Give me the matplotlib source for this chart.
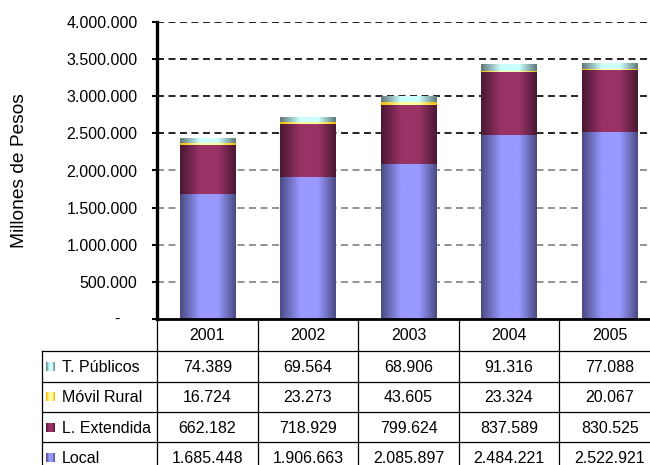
import numpy as np
import matplotlib
matplotlib.use("Agg")
import matplotlib.pyplot as plt
from matplotlib.colors import LinearSegmentedColormap
from matplotlib.lines import Line2D
from matplotlib.ticker import FuncFormatter

plt.rcParams["font.family"] = ["Liberation Sans", "DejaVu Sans"]

years = ["2001", "2002", "2003", "2004", "2005"]
local = [1685448, 1906663, 2085897, 2484221, 2522921]
l_extendida = [662182, 718929, 799624, 837589, 830525]
movil_rural = [16724, 23273, 43605, 23324, 20067]
t_publicos = [74389, 69564, 68906, 91316, 77088]

# stacking order bottom -> top, table order top -> bottom
series = [
    ("Local", local, "#4a4a84", "#9999ff"),
    ("L. Extendida", l_extendida, "#4a1832", "#993366"),
    ("Móvil Rural", movil_rural, "#f0b800", "#ffffa0"),
    ("T. Públicos", t_publicos, "#5e7878", "#ccffff"),
]

FS = 11.5
W, H = 650, 465
fig = plt.figure(figsize=(6.5, 4.65), dpi=100)

x_left, x_right = 157, 660
y_top, y_zero = 22, 319
ax = fig.add_axes([x_left / W, 1 - y_zero / H, (x_right - x_left) / W, (y_zero - y_top) / H])


def fx(px):
    return px / W


def fy(py):
    return 1 - py / H


def shade(edge, center):
    # horizontal cylinder-like shading: dark edges, bright band just left of centre
    cmap = LinearSegmentedColormap.from_list("s", [edge, center, center, edge])
    t = np.linspace(0, 1, 200)
    prof = np.interp(t, [0, 0.45, 0.6, 1.0], [0.0, 0.42, 0.58, 1.0])
    return cmap(prof)[None, :, :]


x = np.arange(len(years))
bottom = np.zeros(len(years))
for name, vals, edge, center in series:
    bars = ax.bar(x, vals, bottom=bottom, width=0.55, color=center, linewidth=0, zorder=3)
    img = shade(edge, center)
    for p in bars:
        x0, y0 = p.get_x(), p.get_y()
        im = ax.imshow(img, extent=(x0, x0 + p.get_width(), y0, y0 + p.get_height()),
                       aspect="auto", interpolation="bilinear", zorder=3)
        im.set_clip_path(p)
    bottom += np.array(vals)

ax.set_xlim(-0.5, len(years) - 0.5)
ax.set_ylim(0, 4000000)
ax.set_yticks(np.arange(0, 4000001, 500000))
ax.yaxis.set_major_formatter(FuncFormatter(lambda v, _: "" if v == 0 else f"{v:,.0f}".replace(",", ".")))
ax.annotate("-", xy=(0, 0), xycoords=("axes fraction", "data"), xytext=(-29, 0),
            textcoords="offset points", ha="center", va="center", fontsize=FS)
ax.tick_params(axis="y", direction="out", length=3.6, width=1.5, pad=10.5, labelsize=FS, colors="black")
ax.set_xticks([])
for lvl in np.arange(500000, 4000001, 500000):
    ax.axhline(lvl, color="black" if lvl >= 2500000 else "#808080", lw=1.2,
               dashes=(4.2, 2.7), zorder=1)
for s in ("top", "right"):
    ax.spines[s].set_visible(False)
ax.spines["left"].set_linewidth(2.4)
ax.spines["bottom"].set_linewidth(2.0)
ax.spines["left"].set_zorder(5)
ax.spines["bottom"].set_zorder(5)

fig.text(fx(20), fy(171), "Millones de Pesos", rotation=90, ha="center", va="center", fontsize=13.8)

# data table under the chart
col_w = (x_right - x_left) / len(years)
row_top = [320, 351, 381.5, 412, 442]
row_h = 30.5
lab_left = 42


def hline(y, x0, x1):
    fig.add_artist(Line2D([fx(x0), fx(x1)], [fy(y), fy(y)], color="black", lw=0.9))


def vline(xp, y0, y1):
    fig.add_artist(Line2D([fx(xp), fx(xp)], [fy(y0), fy(y1)], color="black", lw=0.9))


bottom_px = row_top[-1] + row_h
for r in row_top[1:]:
    hline(r, lab_left, x_right)
vline(lab_left, row_top[1], bottom_px)
for i in range(len(years) + 1):
    vline(x_left + i * col_w, row_top[0], bottom_px)

for i, yr in enumerate(years):
    fig.text(fx(x_left + (i + 0.5) * col_w), fy(row_top[0] + 15.5), yr,
             ha="center", va="center", fontsize=FS)

for k, (name, vals, edge, center) in enumerate(reversed(series)):
    yc = row_top[k + 1] + row_h / 2
    kax = fig.add_axes([fx(46), fy(yc + 4.5), 9 / W, 9 / H])
    kax.imshow(shade(edge, center), aspect="auto", interpolation="bilinear")
    kax.set_axis_off()
    fig.text(fx(62), fy(yc + 1), name, ha="left", va="center", fontsize=FS)
    for i, v in enumerate(vals):
        fig.text(fx(x_left + (i + 0.5) * col_w), fy(yc + 1), f"{v:,}".replace(",", "."),
                 ha="center", va="center", fontsize=FS)

fig.savefig("out.png", dpi=100)
